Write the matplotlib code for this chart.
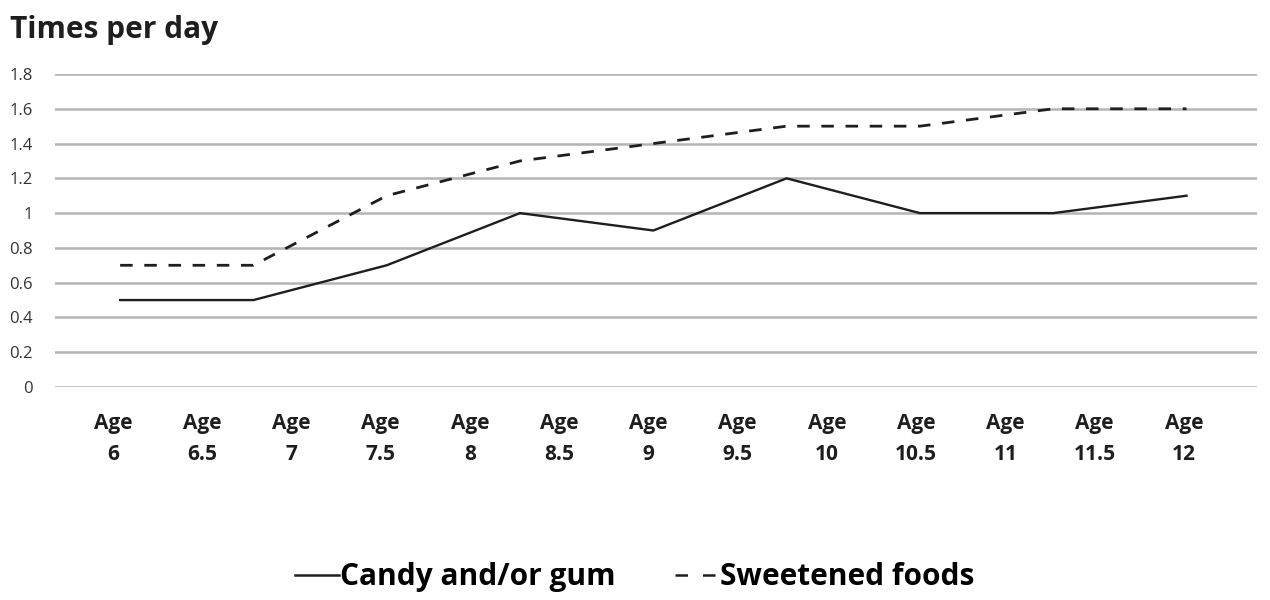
import matplotlib
matplotlib.use("Agg")
import matplotlib.pyplot as plt
import numpy as np
from matplotlib.lines import Line2D

ages = ["6", "6.5", "7", "7.5", "8", "8.5", "9", "9.5", "10", "10.5", "11", "11.5", "12"]
tick_labels = [f"Age\n{a}" for a in ages]
candy = [0.5, 0.5, 0.7, 1.0, 0.9, 1.2, 1.0, 1.0, 1.1]
sweetened = [0.7, 0.7, 1.1, 1.3, 1.4, 1.5, 1.5, 1.6, 1.6]
y_ticks = [0, 0.2, 0.4, 0.6, 0.8, 1, 1.2, 1.4, 1.6, 1.8]
y_tick_labels = ["0", "0.2", "0.4", "0.6", "0.8", "1", "1.2", "1.4", "1.6", "1.8"]

plt.rcParams['font.family'] = ['Open Sans', 'DejaVu Sans']

fig = plt.figure(figsize=(12.7, 6), dpi=100)
fig.patch.set_facecolor("white")
ax = fig.add_axes([55/1270, 1-387/600, (1257-55)/1270, (387-74)/600])

x_pts = np.linspace(0.08, 12.03, len(candy))
ax.plot(x_pts, candy, color="#1e1e1e", lw=1.7, solid_joinstyle="miter", zorder=3)
ax.plot(x_pts, sweetened, color="#1e1e1e", lw=2.0, dashes=(4.5, 4.2), zorder=3)

ax.set_xlim(-0.65, 12.82)
ax.set_ylim(0, 1.8)
ax.set_yticks(y_ticks)
ax.set_yticklabels(y_tick_labels, fontsize=12, color="#333333")
ax.set_xticks(range(len(ages)))
ax.set_xticklabels(tick_labels, fontsize=15, fontweight="bold", color="#1e1e1e",
                   linespacing=1.6)
ax.tick_params(axis="both", length=0)
ax.tick_params(axis="y", pad=16)
ax.tick_params(axis="x", pad=19)
for s in ax.spines.values():
    s.set_visible(False)
ax.grid(axis="y", color="#b4b4b4", lw=1.8)
ax.set_axisbelow(True)

fig.text(10/1270, 1-30/600, "Times per day", fontsize=21.5, fontweight="bold",
         color="#1e1e1e", va="center", ha="left")

handles = [Line2D([], [], color="#1e1e1e", lw=1.8),
           Line2D([], [], color="#1e1e1e", lw=1.8, dashes=(5, 6))]
fig.legend(handles, ["Candy and/or gum", "Sweetened foods"], loc="center",
           bbox_to_anchor=(0.5, 1-577/600), ncol=2, frameon=False,
           prop={"weight": "bold", "size": 21.5}, handlelength=1.45,
           handletextpad=0.05, columnspacing=2.0)

fig.savefig("out.png", dpi=100, facecolor="white")
